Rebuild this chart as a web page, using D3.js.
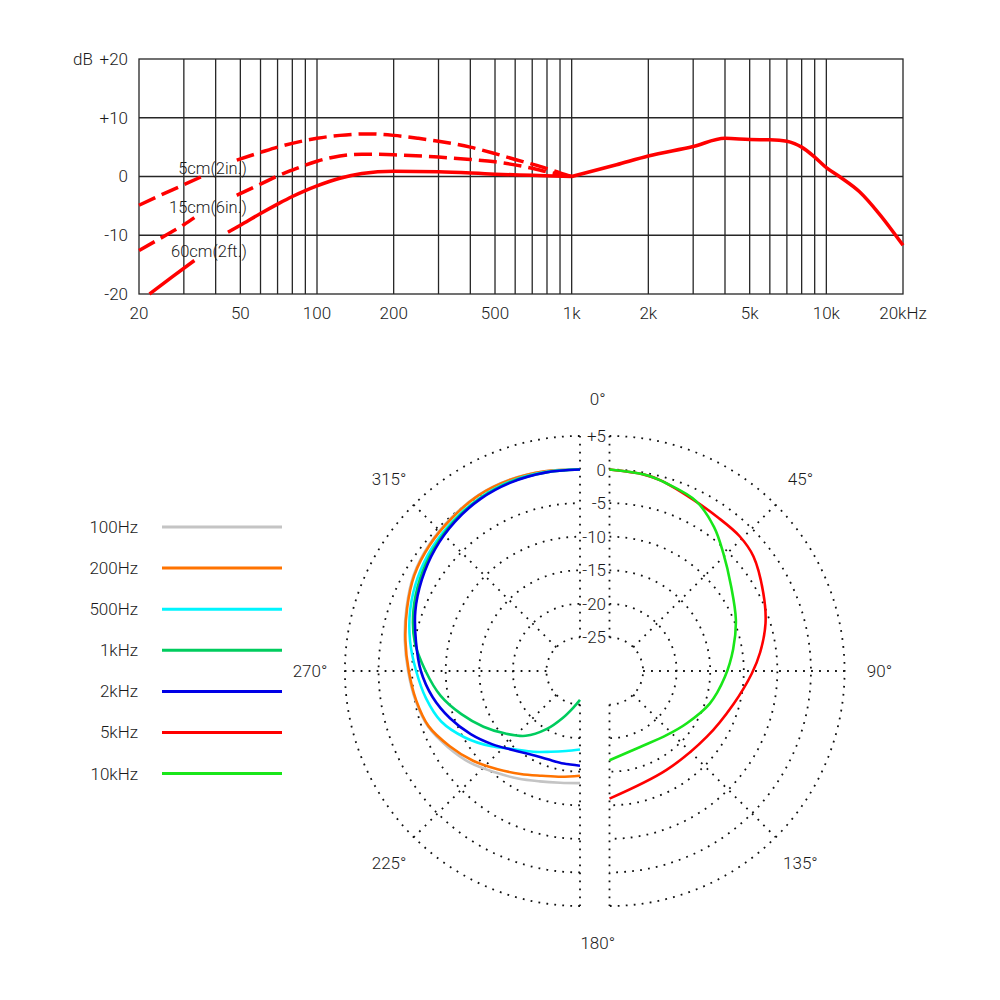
<!DOCTYPE html>
<html><head><meta charset="utf-8">
<script src="https://cdn.jsdelivr.net/npm/d3@7"></script>
<style>
body{margin:0;background:#fff;}
text{font-family:Roboto,"Noto Sans",sans-serif;font-weight:300;fill:#1a1a1a;font-size:17px;}
</style></head><body>
<svg id="chart" width="1000" height="1000"></svg>
<script>
// ---------- Frequency response (top) ----------
const freqTicks = [20, 50, 100, 200, 500, 1000, 2000, 5000, 10000, 20000];
const freqTickLabels = ["20", "50", "100", "200", "500", "1k", "2k", "5k", "10k", "20kHz"];
const freqGrid = [30, 40, 50, 60, 70, 80, 90, 100, 200, 300, 400, 500, 600, 700, 800, 900, 1000,
                  2000, 3000, 4000, 5000, 6000, 7000, 8000, 9000, 10000];
const dbTicks = [20, 10, 0, -10, -20];
const dbTickLabels = ["+20", "+10", "0", "-10", "-20"];

// [Hz, dB]; null marks a gap left for the curve label
const resp5cm = [[20,-4.9],[23.4,-3.5],[30,-1.4],[35.3,0],[36,null],[48.4,2.8],[60,4.1],[70,5.0],[100,6.5],[123,7.0],[160,7.25],[200,7.0],[250,6.5],[300,6.0],[400,5.0],[500,3.9],[600,2.9],[700,2.1],[800,1.35],[900,0.6],[1000,0]];
const resp15cm = [[20,-12.6],[25,-10.2],[30,-8.2],[33,-7.0],[34,null],[48.4,-3.2],[60,-1.3],[70,0.1],[80,1.1],[100,2.6],[123,3.5],[150,3.8],[200,3.7],[300,3.3],[400,2.9],[500,2.5],[700,1.4],[800,0.8],[900,0.35],[1000,0]];
const resp60cm = [[22,-20],[27,-17.1],[33,-14.3],[34,null],[44.7,-9.5],[50,-8.3],[60,-6.3],[70,-4.7],[80,-3.4],[90,-2.4],[100,-1.6],[123,-0.3],[150,0.5],[200,0.9],[300,0.8],[500,0.4],[700,0.2],[1000,0]];
const respHigh = [[1000,0],[1500,2.0],[2000,3.5],[3000,5.1],[4000,6.5],[5000,6.3],[6000,6.25],[7000,6.0],[7500,5.6],[8000,5.0],[9000,3.3],[10000,1.5],[11250,0],[13500,-2.6],[16100,-6.3],[20000,-11.7]];
const distanceLabels = ["5cm(2in.)", "15cm(6in.)", "60cm(2ft.)"];

// ---------- Polar pattern (bottom) ----------
const polarSeriesNames = ["100Hz", "200Hz", "500Hz", "1kHz", "2kHz", "5kHz", "10kHz"];
const polarColors = ["#c4c4c4", "#ff7300", "#00f5ff", "#00cc5e", "#0000e6", "#ff0000", "#19e619"];
// [angle deg, dB]
const pat100 = [[360,0],[350,0.2],[340,0.35],[330,0.25],[320,-0.2],[310,-0.7],[300,-1.4],[290,-2.5],[280,-3.5],[270,-4.4],[260,-5.1],[250,-5.9],[240,-7.3],[230,-8.7],[220,-10.3],[210,-11.5],[200,-12.5],[190,-13.1],[180,-13.3]];
const pat200 = [[360,0],[350,0.2],[340,0.3],[330,0.2],[320,-0.3],[310,-0.8],[300,-1.5],[290,-2.6],[280,-3.6],[270,-4.5],[260,-5.2],[250,-6.0],[240,-7.6],[230,-9.2],[220,-10.9],[210,-12.3],[200,-13.4],[190,-14.0],[180,-14.4]];
const pat500 = [[360,0],[350,0.1],[340,0.1],[330,-0.2],[320,-0.7],[310,-1.3],[300,-2.1],[290,-3.1],[280,-4.3],[270,-5.6],[260,-6.7],[250,-8.0],[240,-10.2],[230,-12.6],[220,-14.8],[210,-16.1],[200,-17.2],[190,-17.9],[180,-18.3]];
const pat1k = [[360,0],[350,0],[340,0],[330,-0.3],[320,-0.85],[310,-1.6],[300,-2.5],[290,-3.6],[280,-5.0],[270,-7.0],[260,-8.9],[250,-11.2],[240,-13.4],[230,-15.5],[220,-17.4],[210,-20.0],[200,-22.6],[190,-24.5],[180,-25.7]];
const pat2k = [[360,0],[350,0],[340,-0.1],[330,-0.4],[320,-1.0],[310,-1.8],[300,-2.8],[290,-3.9],[280,-5.2],[270,-6.3],[260,-7.7],[250,-9.4],[240,-11.2],[230,-13.0],[220,-14.6],[210,-15.6],[200,-16.0],[190,-16.0],[180,-15.9]];
const pat5k = [[0,0],[10,-0.3],[15,-0.6],[26,-1.6],[35,-2.0],[44,-2.1],[51.5,-2.6],[63,-4.3],[73,-5.7],[83,-7.4],[91,-8.8],[105,-10.9],[124,-12.5],[150,-13.0],[180,-11.0]];
const pat10k = [[0,0],[10,-0.3],[17,-0.8],[27,-1.6],[36,-3.5],[44,-5.6],[55,-7.9],[68,-9.7],[80,-11.3],[93,-12.8],[108,-14.3],[124,-16.1],[138,-17.2],[158,-17.8],[180,-16.7]];
const polarRings = [-25, -20, -15, -10, -5, 0, 5];
const polarRingLabels = ["-25", "-20", "-15", "-10", "-5", "0", "+5"];
const polarAngleTicks = [0, 45, 90, 135, 180, 225, 270, 315];
const polarAngleLabels = ["0°", "45°", "90°", "135°", "180°", "225°", "270°", "315°"];

const svg = d3.select("#chart");
const gridColor = "#262626";

// ===== Top chart =====
const x = d3.scaleLog().domain([20, 20000]).range([139, 903]);
const y = d3.scaleLinear().domain([-20, 20]).range([294, 59]);
const gTop = svg.append("g");

gTop.selectAll("line.vg").data(freqGrid).join("line")
  .attr("x1", d => x(d)).attr("x2", d => x(d))
  .attr("y1", y(20)).attr("y2", y(-20))
  .attr("stroke", gridColor).attr("stroke-width", 1.3);
gTop.selectAll("line.hg").data([10, 0, -10]).join("line")
  .attr("x1", x(20)).attr("x2", x(20000))
  .attr("y1", d => y(d)).attr("y2", d => y(d))
  .attr("stroke", gridColor).attr("stroke-width", 1.3);
gTop.append("rect")
  .attr("x", x(20)).attr("y", y(20))
  .attr("width", x(20000) - x(20)).attr("height", y(-20) - y(20))
  .attr("fill", "none").attr("stroke", gridColor).attr("stroke-width", 1.3);

gTop.selectAll("text.xt").data(freqTicks).join("text")
  .attr("x", d => x(d)).attr("y", 313).attr("dy", "0.35em")
  .attr("text-anchor", "middle")
  .text((d, i) => freqTickLabels[i]);
gTop.selectAll("text.yt").data(dbTicks).join("text")
  .attr("x", 128).attr("y", d => y(d)).attr("dy", "0.35em")
  .attr("text-anchor", "end")
  .text((d, i) => dbTickLabels[i]);
gTop.append("text").attr("x", 73).attr("y", y(20)).attr("dy", "0.35em").text("dB");

const respLine = d3.line()
  .defined(d => d[1] !== null)
  .x(d => x(d[0])).y(d => y(d[1]))
  .curve(d3.curveMonotoneX);

[[resp5cm, "18,7"], [resp15cm, "18,7"], [resp60cm, null], [respHigh, null]].forEach(([data, dash]) => {
  gTop.append("path").attr("d", respLine(data))
    .attr("fill", "none").attr("stroke", "#ff0000").attr("stroke-width", 3.5)
    .attr("stroke-dasharray", dash);
});

const labelYs = [168, 207, 251];
gTop.selectAll("text.dl").data(distanceLabels).join("text")
  .attr("x", 247).attr("y", (d, i) => labelYs[i]).attr("dy", "0.35em")
  .attr("text-anchor", "end").style("font-size", "16.5px")
  .text(d => d);

// ===== Polar chart =====
const r = d3.scaleLinear().domain([-30, 5]).range([0, 235]);
const cy = 671, cxL = 580, cxR = 609.5, cxMid = (cxL + cxR) / 2;
const dotStyle = sel => sel.attr("fill", "none").attr("stroke", "#111")
  .attr("stroke-width", 1.8).attr("stroke-dasharray", "1.8,6.2");

function halfGrid(cx, a0, a1, spokes) {
  const g = svg.append("g").attr("transform", `translate(${cx},${cy})`);
  polarRings.forEach(db => {
    const p = d3.path();
    p.arc(0, 0, r(db), a0, a1, false);
    g.append("path").attr("d", p.toString()).call(dotStyle);
  });
  spokes.forEach(deg => {
    const a = deg * Math.PI / 180;
    g.append("line")
      .attr("x1", r(-25) * Math.sin(a)).attr("y1", -r(-25) * Math.cos(a))
      .attr("x2", r(5) * Math.sin(a)).attr("y2", -r(5) * Math.cos(a))
      .call(dotStyle);
  });
  return g;
}
const gL = halfGrid(cxL, Math.PI / 2, 3 * Math.PI / 2, [180, 225, 270, 315, 360]);
const gR = halfGrid(cxR, -Math.PI / 2, Math.PI / 2, [0, 45, 90, 135, 180]);

svg.selectAll("text.rl").data(polarRings).join("text")
  .attr("x", 606).attr("y", d => cy - r(d)).attr("dy", "0.35em")
  .attr("text-anchor", "end")
  .text((d, i) => polarRingLabels[i]);

svg.selectAll("text.al").data(polarAngleTicks).join("text")
  .attr("x", d => {
    const a = d * Math.PI / 180;
    if (d === 0 || d === 180) return cxMid + 3;
    return (d < 180 ? cxR : cxL) + 270 * Math.sin(a);
  })
  .attr("y", d => cy - 272 * Math.cos(d * Math.PI / 180)).attr("dy", "0.35em")
  .attr("text-anchor", "middle")
  .text((d, i) => polarAngleLabels[i]);

const radial = d3.lineRadial()
  .angle(d => d[0] * Math.PI / 180)
  .radius(d => r(d[1]))
  .curve(d3.curveCatmullRom);

const polarData = [pat100, pat200, pat500, pat1k, pat2k, pat5k, pat10k];
polarData.forEach((data, i) => {
  const g = i < 5 ? gL : gR;
  g.append("path").attr("d", radial(data))
    .attr("fill", "none").attr("stroke", polarColors[i]).attr("stroke-width", 2.6);
});

// legend
const legY0 = 527, legStep = 41.1;
const leg = svg.append("g");
leg.selectAll("line").data(polarSeriesNames).join("line")
  .attr("x1", 162).attr("x2", 282)
  .attr("y1", (d, i) => legY0 + i * legStep).attr("y2", (d, i) => legY0 + i * legStep)
  .attr("stroke", (d, i) => polarColors[i]).attr("stroke-width", 3);
leg.selectAll("text").data(polarSeriesNames).join("text")
  .attr("x", 138).attr("y", (d, i) => legY0 + i * legStep).attr("dy", "0.35em")
  .attr("text-anchor", "end")
  .text(d => d);
</script>
</body></html>
